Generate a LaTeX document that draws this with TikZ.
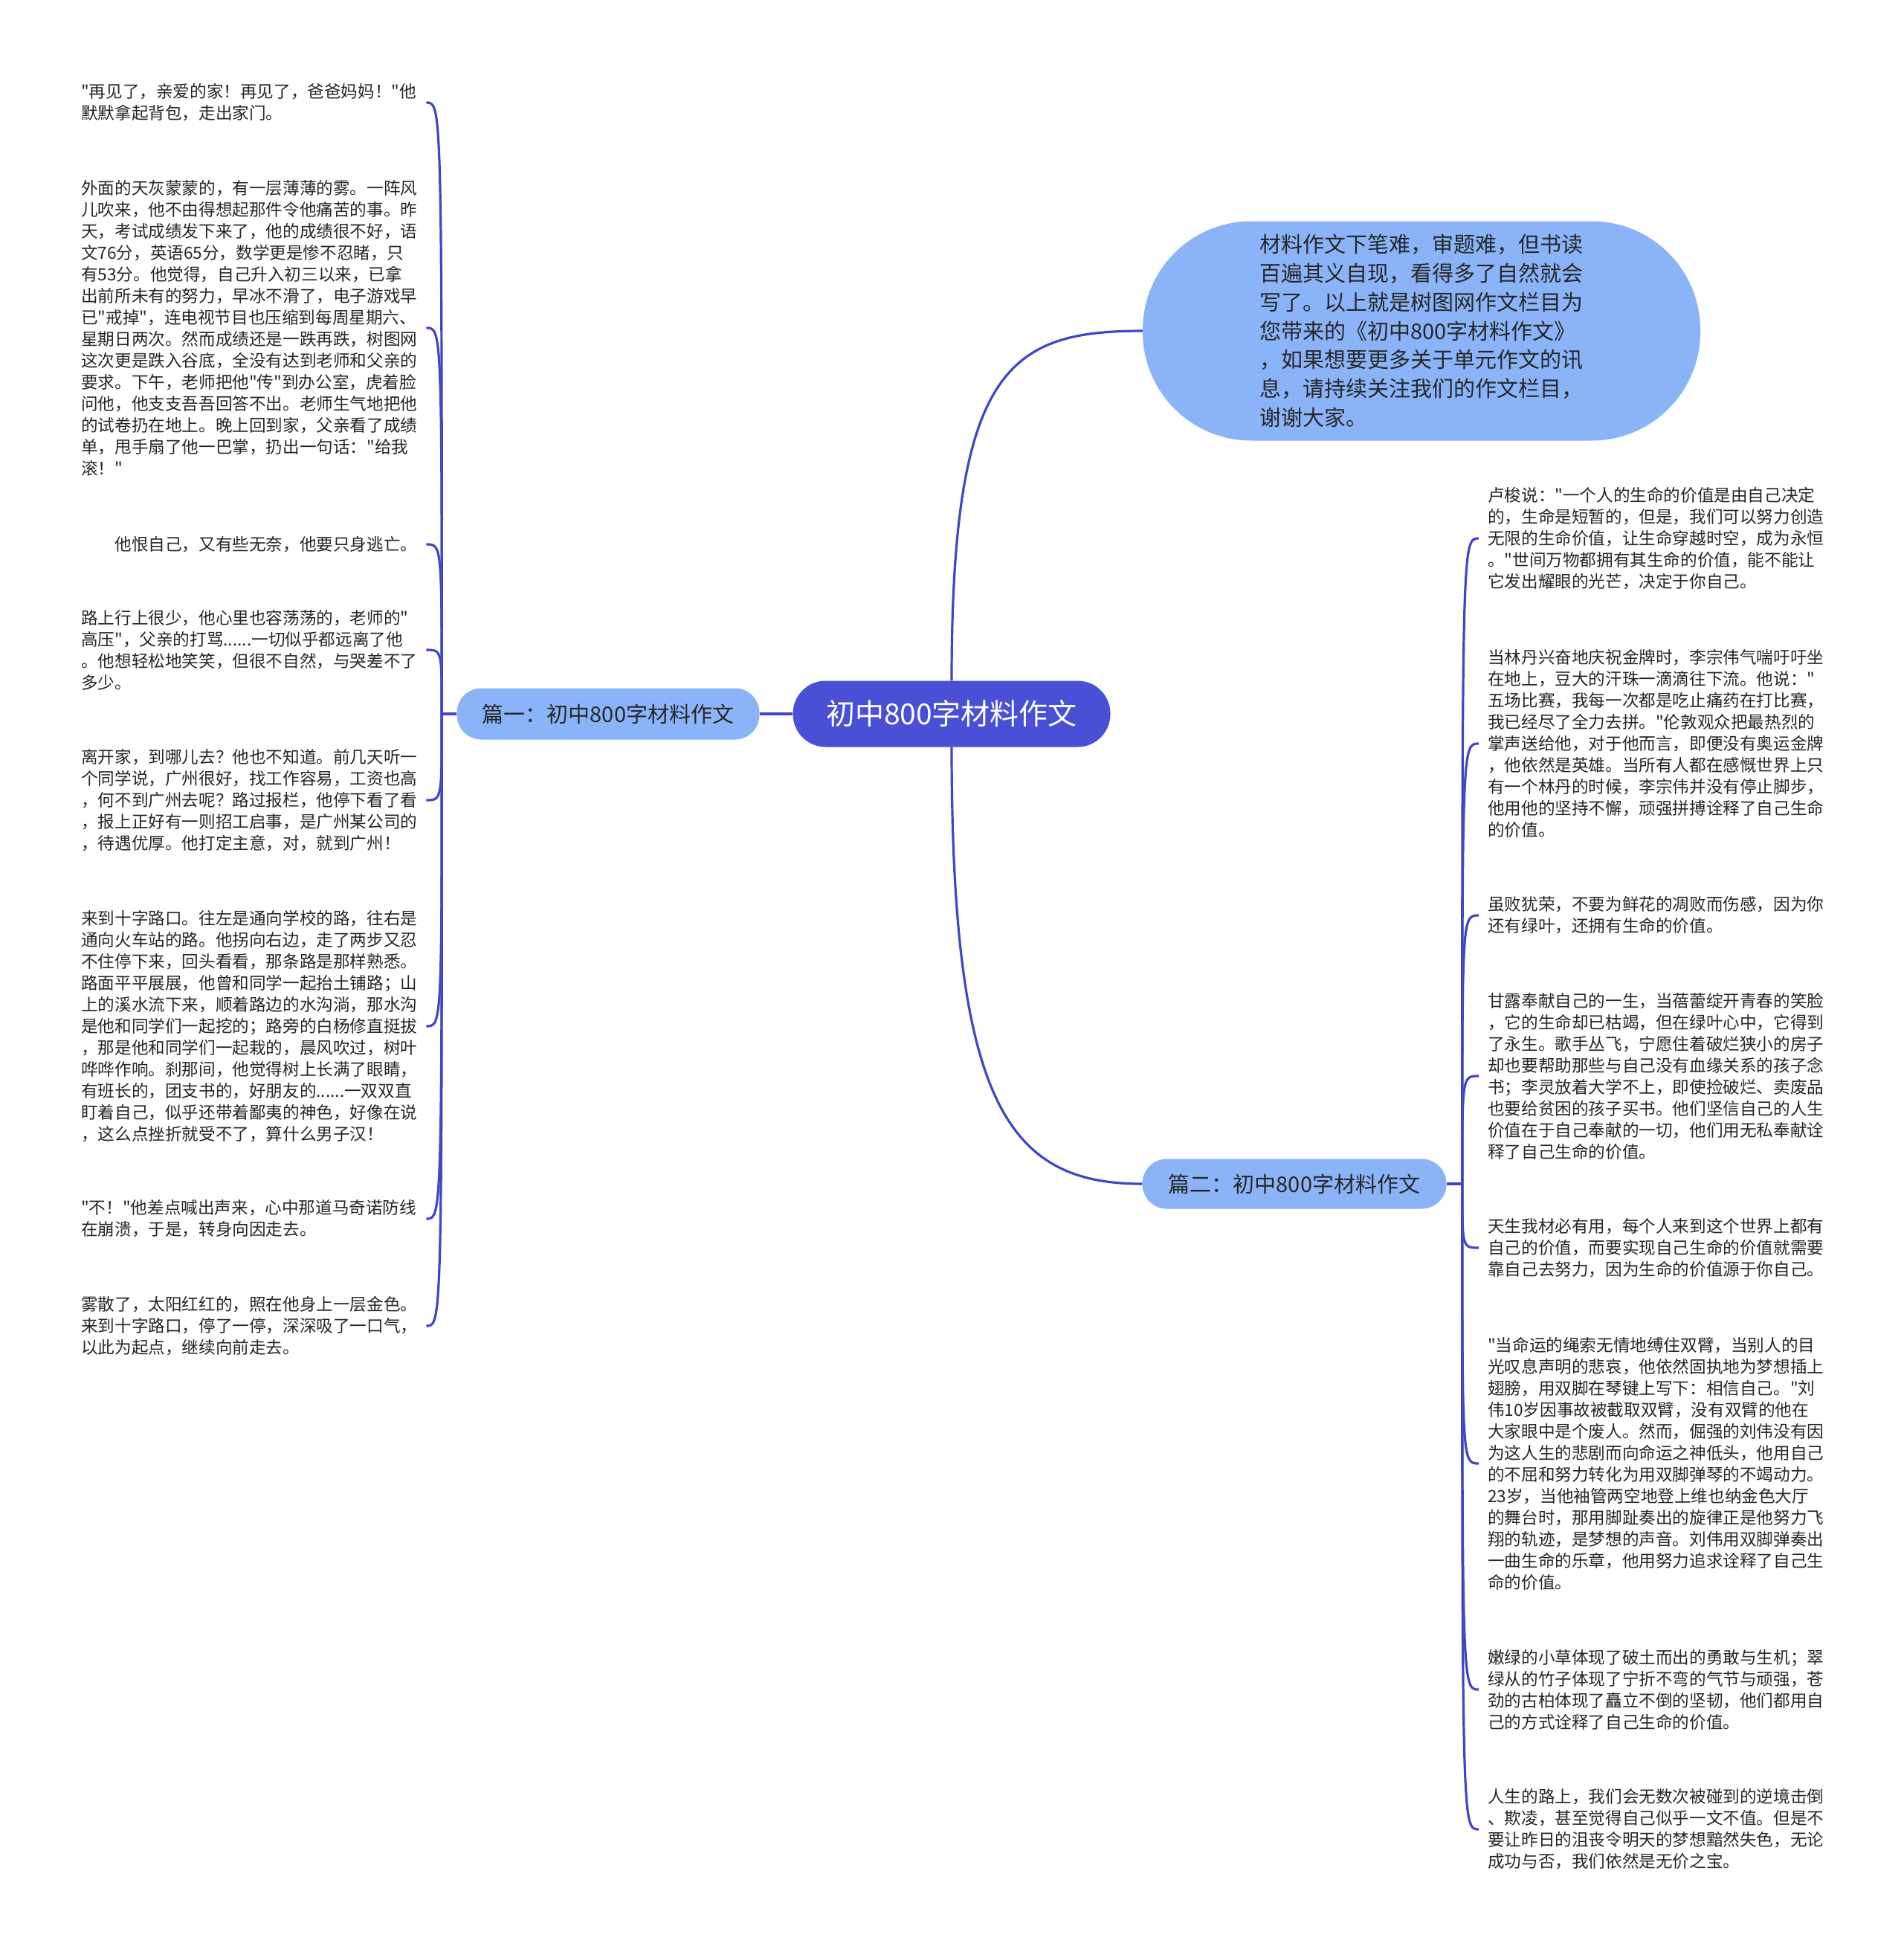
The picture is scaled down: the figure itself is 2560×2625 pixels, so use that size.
\documentclass[tikz,border=0pt]{standalone}
\usepackage{fontspec}
\setmainfont{Noto Sans CJK SC}[Ligatures=TeXOff]
\usepackage{tikz}
\usetikzlibrary{positioning, calc}

\definecolor{rootblue}{RGB}{74,80,214}
\definecolor{subblue}{RGB}{139,180,248}
\definecolor{linkblue}{RGB}{62,72,198}
\definecolor{txtgray}{RGB}{38,38,38}

\begin{document}
\begin{tikzpicture}[x=1pt, y=-1pt]
  \tikzstyle{coord}=[inner sep=0pt, outer sep=0pt, minimum size=0pt]
  \tikzstyle{root}=[fill=rootblue, text=white, rounded corners=44, minimum width=427, minimum height=89, font=\fontsize{39}{46}\selectfont]
  \tikzstyle{branch}=[fill=subblue, text=txtgray, rounded corners=33, font=\fontsize{29}{36}\selectfont]
  \tikzstyle{note}=[fill=subblue, text=txtgray, rounded corners=146, minimum width=750, minimum height=295, text width=435, align=left, font=\fontsize{29}{38.8}\selectfont]
  \tikzstyle{leaf}=[anchor=west, text=txtgray, inner sep=12, text width=452, align=left, font=\fontsize{22.6}{29}\selectfont]
  \tikzstyle{link}=[draw=linkblue, line width=3.2]

  \useasboundingbox (0,0) rectangle (2560,2625);
  \fill[white] (0,0) rectangle (2560,2625);

  % root, branches and closing note
  \node (root) at (1280,960) [root] {初中800字材料作文};
  \node (p1) at (818,960) [branch, minimum width=407, minimum height=69] {篇一：初中800字材料作文};
  \node (p2) at (1741,1592) [branch, minimum width=409, minimum height=67] {篇二：初中800字材料作文};
  \node (note) at (1912,445) [note] {材料作文下笔难，审题难，但书读\\百遍其义自现，看得多了自然就会\\写了。以上就是树图网作文栏目为\\您带来的《初中800字材料作文》\\，如果想要更多关于单元作文的讯\\息，请持续关注我们的作文栏目，\\谢谢大家。};

  % left leaves (篇一)
  \node (l1) at (97,138) [leaf] {"再见了，亲爱的家！再见了，爸爸妈妈！"他\\默默拿起背包，走出家门。};
  \node (l2) at (97,441) [leaf] {外面的天灰蒙蒙的，有一层薄薄的雾。一阵风\\儿吹来，他不由得想起那件令他痛苦的事。昨\\天，考试成绩发下来了，他的成绩很不好，语\\文76分，英语65分，数学更是惨不忍睹，只\\有53分。他觉得，自己升入初三以来，已拿\\出前所未有的努力，早冰不滑了，电子游戏早\\已"戒掉"，连电视节目也压缩到每周星期六、\\星期日两次。然而成绩还是一跌再跌，树图网\\这次更是跌入谷底，全没有达到老师和父亲的\\要求。下午，老师把他"传"到办公室，虎着脸\\问他，他支支吾吾回答不出。老师生气地把他\\的试卷扔在地上。晚上回到家，父亲看了成绩\\单，甩手扇了他一巴掌，扔出一句话："给我\\滚！"};
  \node (l3) at (97,732) [leaf] {　　他恨自己，又有些无奈，他要只身逃亡。};
  \node (l4) at (97,874) [leaf] {路上行上很少，他心里也容荡荡的，老师的"\\高压"，父亲的打骂......一切似乎都远离了他\\。他想轻松地笑笑，但很不自然，与哭差不了\\多少。};
  \node (l5) at (97,1076) [leaf] {离开家，到哪儿去？他也不知道。前几天听一\\个同学说，广州很好，找工作容易，工资也高\\，何不到广州去呢？路过报栏，他停下看了看\\，报上正好有一则招工启事，是广州某公司的\\，待遇优厚。他打定主意，对，就到广州！};
  \node (l6) at (97,1380) [leaf] {来到十字路口。往左是通向学校的路，往右是\\通向火车站的路。他拐向右边，走了两步又忍\\不住停下来，回头看看，那条路是那样熟悉。\\路面平平展展，他曾和同学一起抬土铺路；山\\上的溪水流下来，顺着路边的水沟淌，那水沟\\是他和同学们一起挖的；路旁的白杨修直挺拔\\，那是他和同学们一起栽的，晨风吹过，树叶\\哗哗作响。刹那间，他觉得树上长满了眼睛，\\有班长的，团支书的，好朋友的......一双双直\\盯着自己，似乎还带着鄙夷的神色，好像在说\\，这么点挫折就受不了，算什么男子汉！};
  \node (l7) at (97,1639) [leaf] {"不！"他差点喊出声来，心中那道马奇诺防线\\在崩溃，于是，转身向因走去。};
  \node (l8) at (97,1783) [leaf] {雾散了，太阳红红的，照在他身上一层金色。\\来到十字路口，停了一停，深深吸了一口气，\\以此为起点，继续向前走去。};

  % right leaves (篇二)
  \node (r1) at (1989,724) [leaf] {卢梭说："一个人的生命的价值是由自己决定\\的，生命是短暂的，但是，我们可以努力创造\\无限的生命价值，让生命穿越时空，成为永恒\\。"世间万物都拥有其生命的价值，能不能让\\它发出耀眼的光芒，决定于你自己。};
  \node (r2) at (1989,1000) [leaf] {当林丹兴奋地庆祝金牌时，李宗伟气喘吁吁坐\\在地上，豆大的汗珠一滴滴往下流。他说："\\五场比赛，我每一次都是吃止痛药在打比赛，\\我已经尽了全力去拼。"伦敦观众把最热烈的\\掌声送给他，对于他而言，即便没有奥运金牌\\，他依然是英雄。当所有人都在感慨世界上只\\有一个林丹的时候，李宗伟并没有停止脚步，\\他用他的坚持不懈，顽强拼搏诠释了自己生命\\的价值。};
  \node (r3) at (1989,1231) [leaf] {虽败犹荣，不要为鲜花的凋败而伤感，因为你\\还有绿叶，还拥有生命的价值。};
  \node (r4) at (1989,1447) [leaf] {甘露奉献自己的一生，当蓓蕾绽开青春的笑脸\\，它的生命却已枯竭，但在绿叶心中，它得到\\了永生。歌手丛飞，宁愿住着破烂狭小的房子\\却也要帮助那些与自己没有血缘关系的孩子念\\书；李灵放着大学不上，即使捡破烂、卖废品\\也要给贫困的孩子买书。他们坚信自己的人生\\价值在于自己奉献的一切，他们用无私奉献诠\\释了自己生命的价值。};
  \node (r5) at (1989,1678) [leaf] {天生我材必有用，每个人来到这个世界上都有\\自己的价值，而要实现自己生命的价值就需要\\靠自己去努力，因为生命的价值源于你自己。};
  \node (r6) at (1989,1968) [leaf] {"当命运的绳索无情地缚住双臂，当别人的目\\光叹息声明的悲哀，他依然固执地为梦想插上\\翅膀，用双脚在琴键上写下：相信自己。"刘\\伟10岁因事故被截取双臂，没有双臂的他在\\大家眼中是个废人。然而，倔强的刘伟没有因\\为这人生的悲剧而向命运之神低头，他用自己\\的不屈和努力转化为用双脚弹琴的不竭动力。\\23岁，当他袖管两空地登上维也纳金色大厅\\的舞台时，那用脚趾奏出的旋律正是他努力飞\\翔的轨迹，是梦想的声音。刘伟用双脚弹奏出\\一曲生命的乐章，他用努力追求诠释了自己生\\命的价值。};
  \node (r7) at (1989,2272) [leaf] {嫩绿的小草体现了破土而出的勇敢与生机；翠\\绿从的竹子体现了宁折不弯的气节与顽强，苍\\劲的古柏体现了矗立不倒的坚韧，他们都用自\\己的方式诠释了自己生命的价值。};
  \node (r8) at (1989,2460) [leaf] {人生的路上，我们会无数次被碰到的逆境击倒\\、欺凌，甚至觉得自己似乎一文不值。但是不\\要让昨日的沮丧令明天的梦想黯然失色，无论\\成功与否，我们依然是无价之宝。};

  % connections from root
  \draw[link] (root.west) -- (p1.east);
  \draw[link] (root.north) .. controls +(0,-420) and +(-180,0) .. (note.west);
  \draw[link] (root.south) .. controls +(0,480) and +(-180,0) .. (p2.west);

  % branch spines
  \draw[link] (p1.west) -- ++(-20,0) node (sl) [coord] {};
  \foreach \i in {1,...,8} {
    \draw[link] (sl) .. controls (sl |- l\i.east) .. (l\i.east);
  }
  \draw[link] (p2.east) -- ++(21,0) node (sr) [coord] {};
  \foreach \i in {1,...,8} {
    \draw[link] (sr) .. controls (sr |- r\i.west) .. (r\i.west);
  }
\end{tikzpicture}
\end{document}
